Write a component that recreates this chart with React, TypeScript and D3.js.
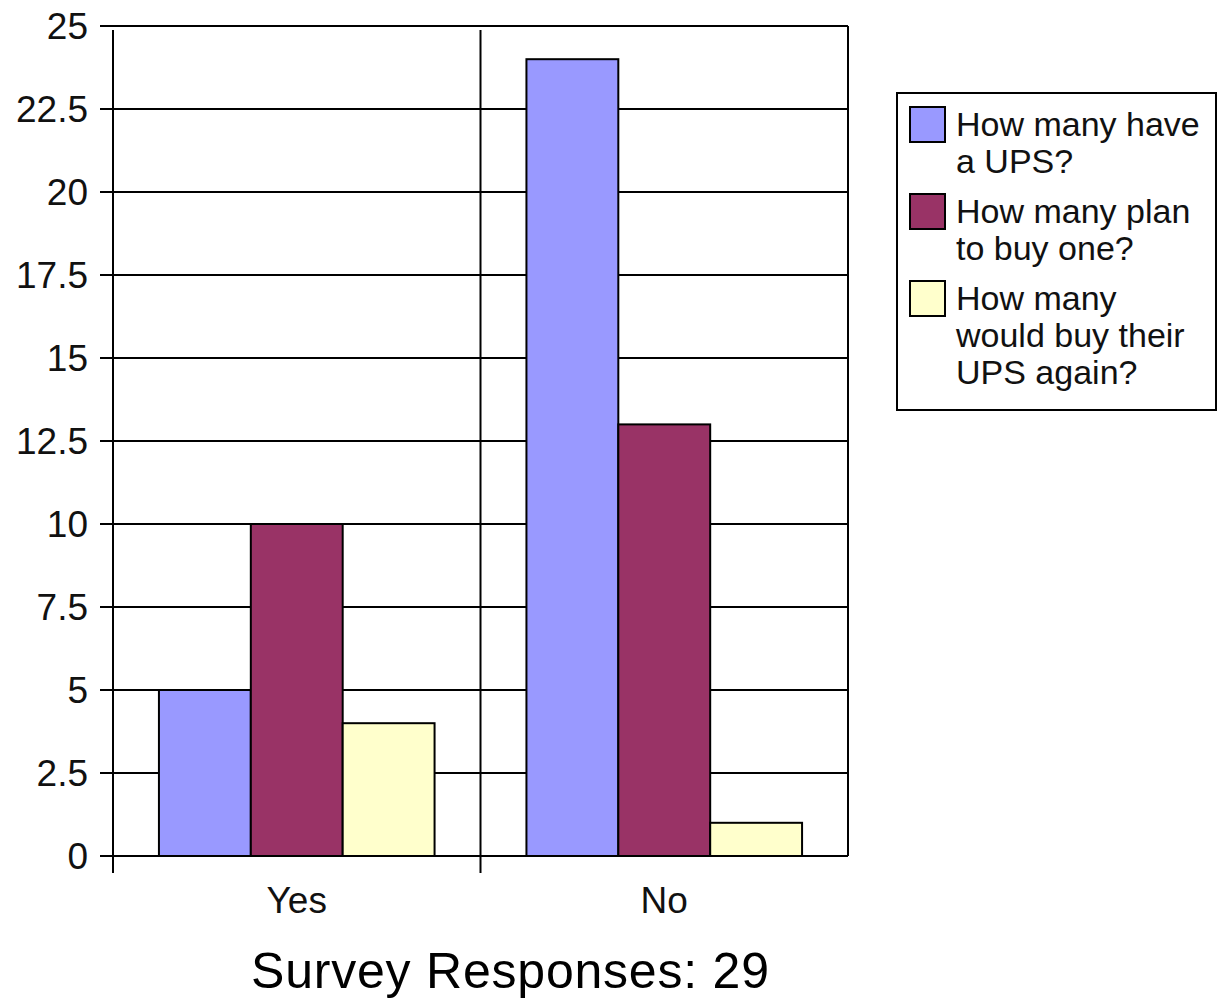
import React from "react";
import * as d3 from "d3";

const categories = ["Yes", "No"];
const seriesNames = ["How many have a UPS?", "How many plan to buy one?", "How many would buy their UPS again?"];
const legendLines = [
  ["How many have", "a UPS?"],
  ["How many plan", "to buy one?"],
  ["How many", "would buy their", "UPS again?"],
];
const seriesColors = ["#9999FF", "#993366", "#FFFFCC"];
const values = [
  [5, 24],
  [10, 13],
  [4, 1],
];
const yTicks = [0, 2.5, 5, 7.5, 10, 12.5, 15, 17.5, 20, 22.5, 25];
const title = "Survey Responses: 29";

export default function App() {
  const W = 1223, H = 1002;
  const left = 113, right = 848, top = 26, bottom = 856;
  const font = "'Liberation Sans', Arial, sans-serif";
  const x = d3.scaleBand<string>().domain(categories).range([left, right]).padding(0);
  const y = d3.scaleLinear().domain([0, 25]).range([bottom, top]);
  const bw = x.bandwidth();
  const inner = d3.scaleBand<number>().domain(d3.range(seriesNames.length)).range([bw * 0.125, bw * 0.875]).padding(0);

  const legendX = 897, legendY = 93;
  let cursor = legendY + 14;
  const legendItems = legendLines.map((lines, i) => {
    const yy = cursor;
    cursor += lines.length * 37 + 13;
    return { lines, yy, i };
  });

  return (
    <svg width={W} height={H} style={{ position: "absolute", left: 0, top: 0, background: "#fff" }} fontFamily={font}>
      <rect x={0} y={0} width={W} height={H} fill="#fff" />
      {yTicks.map((t) => (
        <g key={t}>
          <line x1={100} x2={right} y1={y(t)} y2={y(t)} stroke="#000" strokeWidth={2} />
          <text x={88} y={y(t) + 13} textAnchor="end" fontSize={37} fill="#111">{t}</text>
        </g>
      ))}
      {categories.map((c) => (
        <line key={c} x1={x(c)!} x2={x(c)!} y1={top + 4} y2={bottom + 17} stroke="#000" strokeWidth={2} />
      ))}
      <line x1={right} x2={right} y1={top} y2={bottom} stroke="#000" strokeWidth={2} />
      {categories.map((c, ci) => (
        <g key={c}>
          {seriesNames.map((s, si) => (
            <rect
              key={s}
              x={x(c)! + inner(si)!}
              y={y(values[si][ci])}
              width={inner.bandwidth()}
              height={y(0) - y(values[si][ci])}
              fill={seriesColors[si]}
              stroke="#000"
              strokeWidth={2}
            />
          ))}
          <text x={x(c)! + bw / 2} y={913} textAnchor="middle" fontSize={37} fill="#111">{c}</text>
        </g>
      ))}
      <line x1={100} x2={right} y1={bottom} y2={bottom} stroke="#000" strokeWidth={2} />
      <text x={510} y={988} textAnchor="middle" fontSize={50} fill="#000" textLength={518} lengthAdjust="spacing">{title}</text>
      <rect x={legendX} y={legendY} width={1216 - legendX} height={410 - legendY} fill="#fff" stroke="#000" strokeWidth={2} />
      {legendItems.map(({ lines, yy, i }) => (
        <g key={i}>
          <rect x={910} y={yy} width={35} height={35} fill={seriesColors[i]} stroke="#000" strokeWidth={2} />
          {lines.map((ln, li) => (
            <text key={li} x={956} y={yy + 29 + li * 37} fontSize={34} fill="#111">{ln}</text>
          ))}
        </g>
      ))}
    </svg>
  );
}
